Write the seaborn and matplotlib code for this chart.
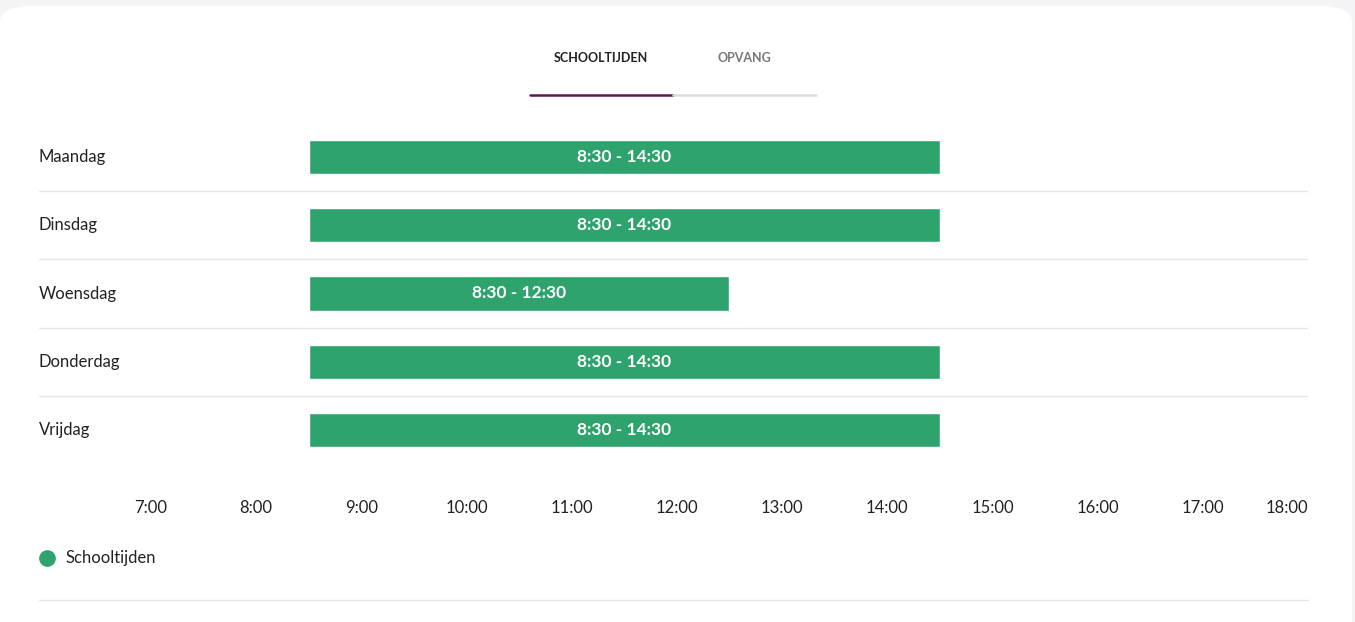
import matplotlib
matplotlib.use("Agg")
import matplotlib.pyplot as plt
import seaborn as sns
import pandas as pd
from matplotlib.patches import FancyBboxPatch
from matplotlib.lines import Line2D

days = ["Maandag", "Dinsdag", "Woensdag", "Donderdag", "Vrijdag"]
start = [8.5, 8.5, 8.5, 8.5, 8.5]
end = [14.5, 14.5, 12.5, 14.5, 14.5]
labels = ["8:30 - 14:30", "8:30 - 14:30", "8:30 - 12:30", "8:30 - 14:30", "8:30 - 14:30"]
hours = list(range(7, 19))
hour_labels = [f"{h}:00" for h in hours]
df = pd.DataFrame({"dag": days, "start": start, "end": end, "label": labels})

sns.set_theme(style="white", font="Lato")
W, H = 1355, 622
fig = plt.figure(figsize=(W / 100, H / 100), dpi=100)
fig.patch.set_facecolor("#f4f4f6")
card = FancyBboxPatch((0 / W, -0.1), 1352 / W, (H - 6) / H + 0.1,
                      boxstyle="round,pad=0,rounding_size=0.025",
                      transform=fig.transFigure, facecolor="white", edgecolor="none",
                      zorder=-10)
fig.patches.append(card)

green = "#2ea36d"
px = lambda x: x / W
py = lambda y: 1 - y / H

x0, x1 = 39, 1308
ax = fig.add_axes([px(x0), py(464), px(x1 - x0), (464 - 123) / H])
ax.set_zorder(5)
ax.set_facecolor("none")
xmin = 7 - (151 - x0) / 105.2
ax.set_xlim(xmin, 18)
ax.set_ylim(4.5, -0.5)
ax.barh(df["dag"].index, df["end"] - df["start"], left=df["start"], height=0.5,
        color=green)
for i, r in df.iterrows():
    ax.text((r["start"] + r["end"]) / 2, i, r["label"], color="white",
            ha="center", va="center", fontsize=12.5, fontweight="bold")
    ax.text(xmin, i, r["dag"], ha="left", va="center", fontsize=12, color="#222")
for b in [0.5, 1.5, 2.5, 3.5]:
    ax.axhline(b, color="#e6e6e6", lw=1)
ax.set_yticks([])
ax.set_xticks(hours)
ax.set_xticklabels(hour_labels, fontsize=12, color="#222")
ax.get_xticklabels()[-1].set_ha("right")
ax.tick_params(axis="x", length=0, pad=26)
for s in ax.spines.values():
    s.set_visible(False)

# tabs
fig.text(px(601), py(58), "SCHOOLTIJDEN", ha="center", va="center",
         fontsize=9, fontweight="bold", color="#222")
fig.text(px(744), py(58), "OPVANG", ha="center", va="center",
         fontsize=9, fontweight="bold", color="#777")
fig.add_artist(Line2D([px(530), px(673)], [py(95)] * 2, color="#5c1a4f", lw=1.8))
fig.add_artist(Line2D([px(673), px(816)], [py(95)] * 2, color="#dddde0", lw=1.8))

# legend
fig.add_artist(Line2D([px(47)], [py(558)], marker="o", markersize=11,
                      color=green, lw=0))
fig.text(px(66), py(558), "Schooltijden", ha="left", va="center",
         fontsize=12, color="#222")
fig.add_artist(Line2D([px(x0), px(x1)], [py(600)] * 2, color="#e6e6e6", lw=1))

fig.savefig("out.png", dpi=100, facecolor=fig.get_facecolor())
